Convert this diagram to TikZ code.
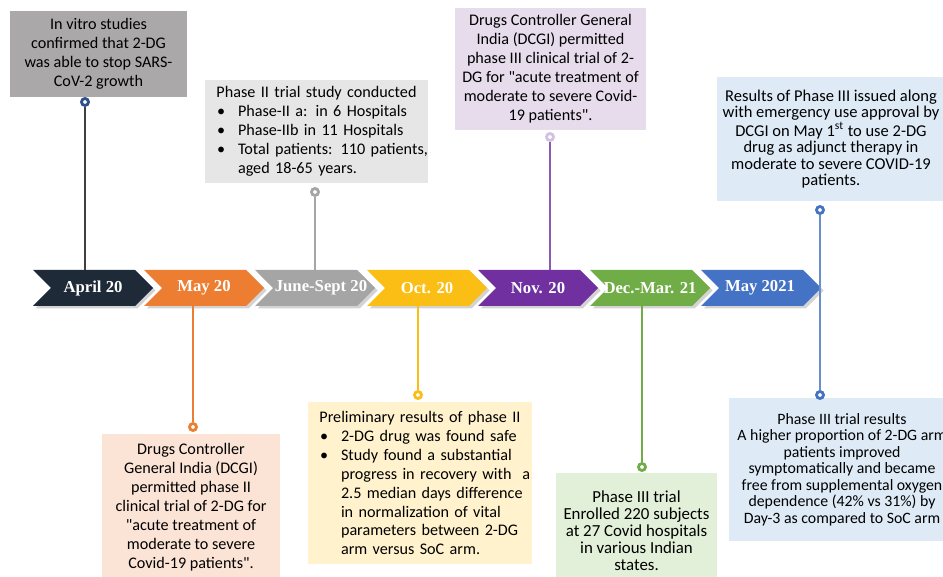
\documentclass[tikz,border=0pt]{standalone}
\usepackage{fontspec}
\setmainfont{Carlito}
\newfontfamily\chevfont{Liberation Serif}
\usetikzlibrary{shadows}

\definecolor{cApr}{RGB}{31,42,56}
\definecolor{cMay}{RGB}{237,125,49}
\definecolor{cJun}{RGB}{165,165,165}
\definecolor{cOct}{RGB}{250,190,20}
\definecolor{cNov}{RGB}{112,48,160}
\definecolor{cDec}{RGB}{112,173,71}
\definecolor{cMayB}{RGB}{68,114,196}
\definecolor{fVitro}{RGB}{170,168,168}
\definecolor{fGray}{RGB}{231,230,230}
\definecolor{fLav}{RGB}{230,220,236}
\definecolor{fBlue}{RGB}{222,235,247}
\definecolor{fPeach}{RGB}{251,228,214}
\definecolor{fYel}{RGB}{255,242,204}
\definecolor{fGreen}{RGB}{226,240,217}

\newcommand\boxfontL{\fontsize{9.2}{10.8}\selectfont}
\newcommand\boxfontS{\fontsize{9.4}{9.4}\selectfont}
\newcommand\boxfontR{\fontsize{9}{9.4}\selectfont}
\newcommand\boxfontG{\fontsize{9.6}{9.7}\selectfont}
\newcommand\bitem[1]{\par\noindent\makebox[0.46cm][l]{\hspace*{0.04cm}\textbullet}\mbox{#1}}
\newcommand\bcont[1]{\par\noindent\hspace*{0.46cm}\mbox{#1}}
\newcommand\qq{\textquotedbl}

\begin{document}
\begin{tikzpicture}[
    x=0.02cm, y=-0.02cm,
    evt/.style={fill=#1, align=center, inner sep=0pt, font=\boxfontL},
    lst/.style={fill=#1, align=left, inner xsep=0.2cm, inner ysep=0pt, font=\boxfontL},
    lab/.style={text=white, font=\chevfont\bfseries\fontsize{9.5}{11}\selectfont,
                minimum height=0.72cm, inner sep=0pt},
    dot/.style={circle, draw=#1, line width=1.6pt, fill=white, inner sep=0pt,
                minimum size=0.14cm},
    tl/.style={draw=#1, line width=0.6pt},
    chev/.style={fill=#1, drop shadow={shadow xshift=0.05cm, shadow yshift=-0.05cm,
                 opacity=0.35}},
  ]
    \useasboundingbox (0,0) rectangle (943,577);
    \clip (0,0) rectangle (943,577);

    % Timeline chevrons -------------------------------------------------------
    \foreach \s/\lx/\col/\txt/\nm in {
        33/93/cApr/April 20/apr,
        144/204/cMay/May 20/may,
        255/321/cJun/June-Sept 20/jun,
        367/427/cOct/Oct. 20/oct,
        478/538/cNov/Nov. 20/nov,
        590/650/cDec/Dec.-Mar. 21/dec,
        701/760/cMayB/May 2021/mayb} {
      \path[chev=\col] (\s,270) -- (\s+102,270) -- (\s+120,288) -- (\s+102,306)
          -- (\s,306) -- (\s+18,288) -- cycle;
      \node[lab] (\nm) at (\lx,288) {\txt};
    }

    % Upper events -------------------------------------------------------------
    \node[evt=fVitro, minimum width=3.54cm, minimum height=1.72cm] (vitro) at (98.5,54)
      {In vitro studies\\confirmed that 2-DG\\was able to stop SARS-\\CoV-2 growth};
    \node[lst=fGray, text width=4.06cm, minimum height=2.06cm] (ph2) at (316.5,131.5)
      {{\centering Phase II trial study conducted\par}%
       \bitem{Phase-II a: in 6 Hospitals}%
       \bitem{Phase-IIb in 11 Hospitals}%
       \bitem{Total patients: 110 patients,}%
       \bcont{aged 18-65 years.}};
    \node[evt=fLav, minimum width=3.82cm, minimum height=2.44cm] (dcgi3) at (550.5,69)
      {Drugs Controller General\\India (DCGI) permitted\\phase III clinical trial of 2-\\DG for \qq acute treatment of\\moderate to severe Covid-\\19 patients\qq.};
    \node[evt=fBlue, font=\boxfontS, minimum width=4.56cm, minimum height=2.5cm] (eua) at (831,139)
      {Results of Phase III issued along\\with emergency use approval by\\DCGI on May 1\textsuperscript{st} to use 2-DG\\drug as adjunct therapy in\\moderate to severe COVID-19\\patients.};

    % Lower events -------------------------------------------------------------
    \node[evt=fPeach, minimum width=3.56cm, minimum height=2.94cm] (dcgi2) at (191,507.5)
      {Drugs Controller\\General India (DCGI)\\permitted phase II\\clinical trial of 2-DG for\\\qq acute treatment of\\moderate to severe\\Covid-19 patients\qq.};
    \node[lst=fYel, text width=4.08cm, minimum height=3.24cm] (prelim) at (420,483)
      {{\centering Preliminary results of phase II\par}%
       \bitem{2-DG drug was found safe}%
       \bitem{Study found a substantial}%
       \bcont{progress in recovery with \ a}%
       \bcont{2.5 median days difference}%
       \bcont{in normalization of vital}%
       \bcont{parameters between 2-DG}%
       \bcont{arm versus SoC arm.}};
    \node[evt=fGreen, font=\boxfontG, minimum width=3.22cm, minimum height=2.3cm] (ph3) at (636.5,530.5)
      {Phase III trial\\Enrolled 220 subjects\\at 27 Covid hospitals\\in various Indian\\states.};
    \node[evt=fBlue, font=\boxfontR, minimum width=4.52cm, minimum height=2.86cm] (res3) at (842,469.5)
      {Phase III trial results\\A higher proportion of 2-DG arm\\patients improved\\symptomatically and became\\free from supplemental oxygen\\dependence (42\% vs 31\%) by\\Day-3 as compared to SoC arm};

    % Markers ------------------------------------------------------------------
    \node[dot=cMayB!70!black] (d1) at (85,102) {};
    \node[dot=cJun]           (d3) at (315,192) {};
    \node[dot=cNov!30]        (d5) at (550,137) {};
    \node[dot=cMayB]          (d7) at (820,210) {};
    \node[dot=cMay]           (d2) at (193,427) {};
    \node[dot=cOct]           (d4) at (418,395) {};
    \node[dot=cDec]           (d6) at (642,467) {};
    \node[dot=cMayB]          (d8) at (820,395) {};

    % Connectors ---------------------------------------------------------------
    \draw[tl=black!75]     (d1) -- (d1 |- apr.north);
    \draw[tl=cJun]         (d3) -- (d3 |- jun.north);
    \draw[tl=cNov!80]      (d5) -- (d5 |- nov.north);
    \draw[tl=cMayB!80]     (d7) -- (d8);
    \draw[tl=cMay]         (d2) -- (d2 |- may.south);
    \draw[tl=cOct]         (d4) -- (d4 |- oct.south);
    \draw[tl=cDec]         (d6) -- (d6 |- dec.south);
  \end{tikzpicture}
\end{document}
